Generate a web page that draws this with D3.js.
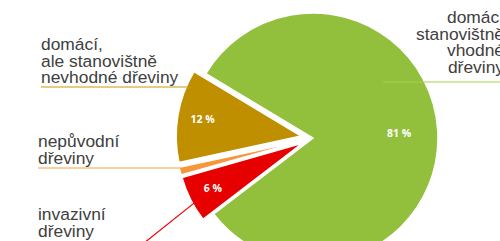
<!DOCTYPE html>
<html>
<head>
<meta charset="utf-8">
<script src="https://cdn.jsdelivr.net/npm/d3@7"></script>
<style>
  body { margin: 0; background: #fff; }
  svg { display: block; }
</style>
</head>
<body>
<div id="chart"></div>
<script>
        // data
        var categories = ["domácí stanovištně vhodné dřeviny", "invazivní dřeviny", "nepůvodní dřeviny", "domácí, ale stanovištně nevhodné dřeviny"];
        var values = [81, 6, 1, 12];
        var valueLabels = ["81 %", "6 %", "", "12 %"];
        var labelLines = [
            ["domácí", "stanovištně", "vhodné", "dřeviny"],
            ["invazivní", "dřeviny"],
            ["nepůvodní", "dřeviny"],
            ["domácí,", "ale stanovištně", "nevhodné dřeviny"]
        ];
        var colors = ["#92c03c", "#e60000", "#f7963c", "#bf8f00"];

        var width = 500;
        var height = 241;

        var svg = d3.select("#chart")
                    .append("svg")
                    .attr("width", width)
                    .attr("height", height);

        // pie geometry
        var cx = 313, cy = 138, radius = 125;
        var explode = [0, 12, 12, 12];
        var valueRadius = [0.69, 0.8, 0.8, 0.8];
        var start = 301 * Math.PI / 180;

        var pie = d3.pie()
            .sort(null)
            .startAngle(start)
            .endAngle(start + 2 * Math.PI);

        var arc = d3.arc()
            .innerRadius(0)
            .outerRadius(radius);

        var slices = pie(values);

        function mid(d){ return (d.startAngle + d.endAngle) / 2; }
        function offset(d, i){
            var a = mid(d);
            return [cx + explode[i] * Math.sin(a), cy - explode[i] * Math.cos(a)];
        }
        function polar(d, i, f){
            var o = offset(d, i), a = mid(d);
            return [o[0] + f * radius * Math.sin(a), o[1] - f * radius * Math.cos(a)];
        }

        var pie_g = svg.append("g");

        pie_g.selectAll("path")
            .data(slices)
            .enter()
            .append("path")
            .attr("transform", function(d, i){ return "translate(" + offset(d, i) + ")"; })
            .attr("d", arc)
            .attr("fill", function(d, i){ return colors[i]; })
            .attr("stroke", "#fff")
            .attr("stroke-width", 1.5)
            .attr("stroke-linejoin", "miter");

        // value labels
        pie_g.selectAll("text")
            .data(slices)
            .enter()
            .append("text")
            .attr("x", function(d, i){ return polar(d, i, valueRadius[i])[0]; })
            .attr("y", function(d, i){ return polar(d, i, valueRadius[i])[1]; })
            .attr("dy", "0.35em")
            .attr("text-anchor", "middle")
            .attr("fill", "#fff")
            .style("font-family", "'Open Sans', sans-serif")
            .style("font-weight", 700)
            .style("font-size", "10.5px")
            .text(function(d, i){ return valueLabels[i]; });

        // category labels (layout only); the right-hand one runs past the edge as in the source
        var textX = [504, 38, 38, 41];
        var textAnchor = ["end", "start", "start", "start"];
        var firstBaseline = [23, 220, 147, 50];
        var lineHeight = 16.5;
        var ruleY = [82, 251, 168, 87];
        var ruleFrom = [383, 38, 38, 41];
        var ruleTo = [width, 134, null, null];

        // x where a horizontal line meets the left outer edge of a slice
        function edgeX(d, i, y){
            var o = offset(d, i);
            var dy = y - o[1];
            return o[0] - Math.sqrt(radius * radius - dy * dy) + 2;
        }

        var lab_g = svg.append("g");

        slices.forEach(function(d, i){
            var t = lab_g.append("text")
                .attr("text-anchor", textAnchor[i])
                .attr("fill", "#404040")
                .style("font-family", "'Liberation Sans', Arial, sans-serif")
                .style("font-size", "17.4px");
            labelLines[i].forEach(function(line, k){
                t.append("tspan")
                    .attr("x", textX[i])
                    .attr("y", firstBaseline[i] + k * lineHeight)
                    .text(line);
            });

            var pts;
            if (i === 0) {
                pts = [[ruleTo[i], ruleY[i]], [ruleFrom[i], ruleY[i]]];
            } else if (i === 1) {
                pts = [[ruleFrom[i], ruleY[i]], [ruleTo[i], ruleY[i]], polar(d, i, valueRadius[i])];
            } else {
                pts = [[ruleFrom[i], ruleY[i]], [edgeX(d, i, ruleY[i]), ruleY[i]]];
            }
            lab_g.append("path")
                .attr("d", d3.line()(pts))
                .attr("fill", "none")
                .attr("stroke", i === 0 ? "#a6d24f" : d3.color(colors[i]).brighter(0.2))
                .attr("stroke-width", 1.2);
        });
</script>
</body>
</html>
